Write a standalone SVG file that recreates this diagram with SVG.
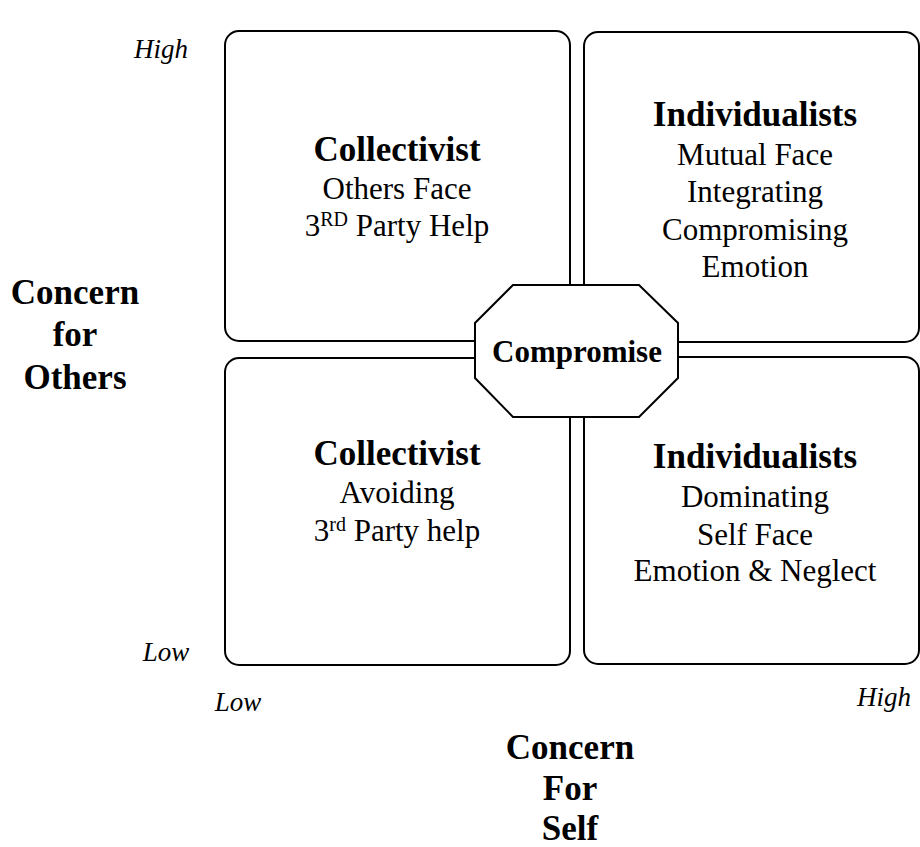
<svg xmlns="http://www.w3.org/2000/svg" width="920" height="847" viewBox="0 0 920 847">
<style>
.box{fill:#fff;stroke:#000;stroke-width:2}
.t{font-family:"Liberation Serif","Times New Roman",serif;fill:#000;text-anchor:middle}
.h{font-size:35px;font-weight:bold}
.b{font-size:31px}
.cb{font-size:31px;font-weight:bold}
.it{font-size:27px;font-style:italic}
.sup{font-size:20px}
</style>
<rect width="920" height="847" fill="#fff"/>
<g id="axes">
<text class="t it" x="161" y="58">High</text>
<text class="t it" x="166" y="661">Low</text>
<text class="t it" x="238" y="711">Low</text>
<text class="t it" x="884" y="706">High</text>
<text class="t h" x="75" y="304">Concern</text>
<text class="t h" x="75" y="346">for</text>
<text class="t h" x="75" y="389">Others</text>
<text class="t h" x="570" y="759">Concern</text>
<text class="t h" x="570" y="800">For</text>
<text class="t h" x="570" y="840">Self</text>
</g>
<g id="tl">
<rect class="box" x="225" y="31" width="345" height="310" rx="14"/>
<text class="t h" x="397" y="161">Collectivist</text>
<text class="t b" x="397" y="199">Others Face</text>
<text class="t b" x="397" y="236">3<tspan class="sup" dy="-10">RD</tspan><tspan dy="10"> Party Help</tspan></text>
</g>
<g id="tr">
<rect class="box" x="584" y="32" width="335" height="310" rx="14"/>
<text class="t h" x="755" y="126">Individualists</text>
<text class="t b" x="755" y="165">Mutual Face</text>
<text class="t b" x="755" y="202">Integrating</text>
<text class="t b" x="755" y="240">Compromising</text>
<text class="t b" x="755" y="277">Emotion</text>
</g>
<g id="bl">
<rect class="box" x="225" y="358" width="345" height="307" rx="14"/>
<text class="t h" x="397" y="465">Collectivist</text>
<text class="t b" x="397" y="503">Avoiding</text>
<text class="t b" x="397" y="541">3<tspan class="sup" dy="-10">rd</tspan><tspan dy="10"> Party help</tspan></text>
</g>
<g id="br">
<rect class="box" x="584" y="357" width="335" height="307" rx="14"/>
<text class="t h" x="755" y="468">Individualists</text>
<text class="t b" x="755" y="507">Dominating</text>
<text class="t b" x="755" y="545">Self Face</text>
<text class="t b" x="755" y="581">Emotion &amp; Neglect</text>
</g>
<g id="center">
<polygon class="box" points="513,285 639,285 678,323 678,378 639,417 513,417 475,378 475,323"/>
<text class="t cb" x="577" y="362">Compromise</text>
</g>
<g id="connectors"></g>
</svg>
